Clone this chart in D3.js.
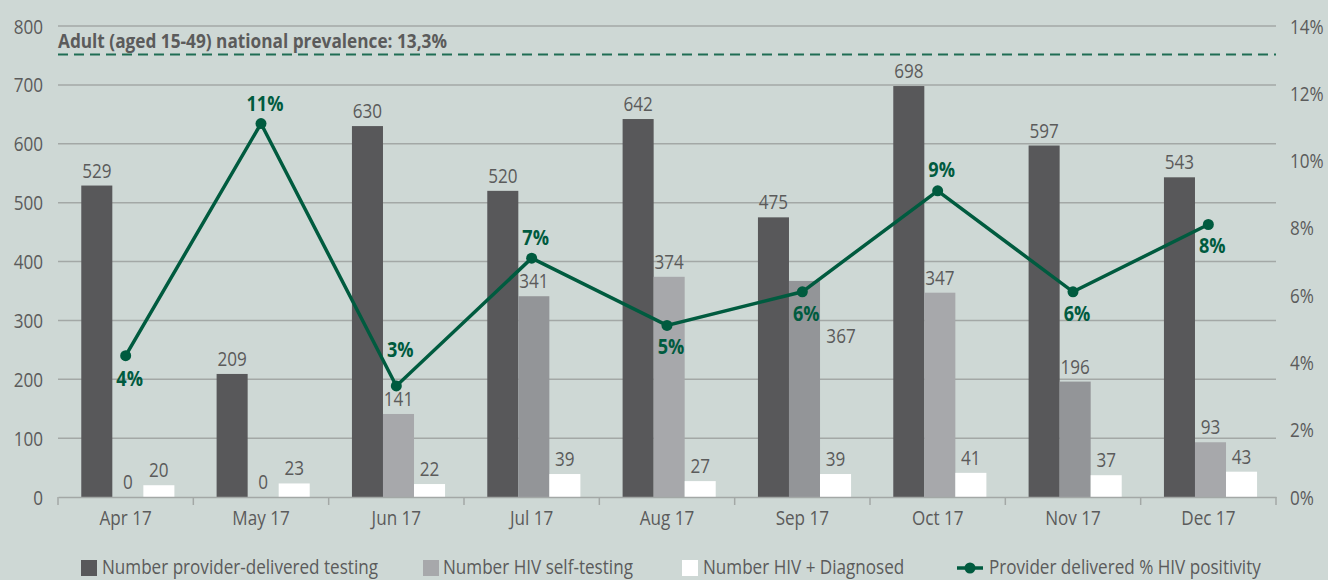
<!DOCTYPE html>
<html>
<head>
<meta charset="utf-8">
<script src="https://cdn.jsdelivr.net/npm/d3@7"></script>
<style>
  html, body { margin: 0; padding: 0; background: #ced8d5; }
  svg { display: block; }
  text { font-family: "Open Sans", "Noto Sans", "Liberation Sans", sans-serif; }
</style>
</head>
<body>
<svg id="chart" width="1328" height="580"></svg>
<script>
// ---- data ----
const months = ["Apr 17", "May 17", "Jun 17", "Jul 17", "Aug 17", "Sep 17", "Oct 17", "Nov 17", "Dec 17"];
const providerTesting = [529, 209, 630, 520, 642, 475, 698, 597, 543];
const selfTesting = [0, 0, 141, 341, 374, 367, 347, 196, 93];
const hivDiagnosed = [20, 23, 22, 39, 27, 39, 41, 37, 43];
const positivityPct = [4.2, 11.1, 3.3, 7.1, 5.1, 6.1, 9.1, 6.1, 8.1];
const positivityLabels = ["4%", "11%", "3%", "7%", "5%", "6%", "9%", "6%", "8%"];
const leftTicks = [0, 100, 200, 300, 400, 500, 600, 700, 800];
const rightTicks = [0, 2, 4, 6, 8, 10, 12, 14];
const prevalenceValue = 13.15;
const prevalenceText = "Adult (aged 15-49) national prevalence: 13,3%";
const seriesNames = ["Number provider-delivered testing", "Number HIV self-testing", "Number HIV + Diagnosed", "Provider delivered % HIV positivity"];

// ---- layout ----
const svg = d3.select("#chart");
const pL = 58, pR = 1276, pT = 26, pB = 497;
const C = {
  dark: "#58585a", light: "#a7a8ab", lightAlt: "#939598", white: "#ffffff",
  green: "#005b3f", dash: "#1f6d54", grid: "#a3a8a6", text: "#5b5b5b"
};

const x0 = d3.scaleBand().domain(months).range([pL, pR]).padding(0);
const keys = ["p", "s", "d"];
const bw = x0.bandwidth();
const x1 = d3.scaleBand().domain(keys).range([bw * 0.172, bw * 0.86]).padding(0);
const y = d3.scaleLinear().domain([0, 800]).range([pB, pT]);
const y2 = d3.scaleLinear().domain([0, 14]).range([pB, pT]);

// gridlines
svg.append("g").selectAll("line").data(leftTicks.filter(d => d > 0)).join("line")
  .attr("x1", pL).attr("x2", pR)
  .attr("y1", d => y(d)).attr("y2", d => y(d))
  .attr("stroke", C.grid).attr("stroke-width", 1.5);

// left axis
const yAxis = d3.axisLeft(y).tickValues(leftTicks).tickSize(0).tickPadding(15);
const gy = svg.append("g").attr("transform", `translate(${pL},0)`).call(yAxis);
gy.select(".domain").remove();
gy.selectAll("text").attr("font-size", 20).attr("fill", C.text).attr("dy", "0.35em").attr("x", -15);

// right axis
const y2Axis = d3.axisRight(y2).tickValues(rightTicks).tickSize(0).tickPadding(14).tickFormat(d => d + "%");
const gy2 = svg.append("g").attr("transform", `translate(${pR},0)`).call(y2Axis);
gy2.select(".domain").remove();
gy2.selectAll("text").attr("font-size", 20).attr("fill", C.text).attr("dy", "0.35em");

// prevalence dashed line + label
svg.append("line").attr("x1", pL).attr("x2", pR)
  .attr("y1", y2(prevalenceValue)).attr("y2", y2(prevalenceValue))
  .attr("stroke", C.dash).attr("stroke-width", 2).attr("stroke-dasharray", "10,6");
const prevLabel = svg.append("text").attr("class", "bold").attr("x", pL).attr("y", y2(prevalenceValue) - 7)
  .attr("font-size", 20).attr("font-weight", "bold").attr("fill", C.text).text(prevalenceText);

// bars
const rows = months.map((m, i) => ({ m, i, p: providerTesting[i], s: selfTesting[i], d: hivDiagnosed[i] }));
const groups = svg.append("g").selectAll("g").data(rows).join("g")
  .attr("transform", d => `translate(${x0(d.m)},0)`);
const fillFor = (k, i) => k === "p" ? C.dark : k === "s" ? (i % 2 ? C.lightAlt : C.light) : C.white;
groups.selectAll("rect").data(d => keys.map(k => ({ k, v: d[k], i: d.i }))).join("rect")
  .attr("x", d => x1(d.k)).attr("width", x1.bandwidth())
  .attr("y", d => y(d.v)).attr("height", d => pB - y(d.v))
  .attr("fill", d => fillFor(d.k, d.i));

// x axis
const xAxis = d3.axisBottom(x0).tickSize(0).tickPadding(14);
const gx = svg.append("g").attr("transform", `translate(0,${pB})`).call(xAxis);
gx.select(".domain").attr("stroke", C.grid).attr("stroke-width", 1.5);
gx.selectAll("text").attr("font-size", 20).attr("fill", C.text).attr("dy", "0.71em");
svg.append("g").selectAll("line").data(months.concat(["end"])).join("line")
  .attr("x1", (d, i) => pL + i * x0.step()).attr("x2", (d, i) => pL + i * x0.step())
  .attr("y1", pB).attr("y2", pB + 8)
  .attr("stroke", C.grid).attr("stroke-width", 1.5);

// bar value labels
groups.selectAll("text.v").data(d => keys.map(k => ({ k, v: d[k], i: d.i }))).join("text")
  .attr("class", "v")
  .attr("x", d => {
    const c = x1(d.k) + x1.bandwidth() / 2;
    return (d.k === "s" && d.i === 5) ? x1(d.k) + x1.bandwidth() + 21 : c;
  })
  .attr("y", d => (d.k === "s" && d.i === 5) ? y(d.v) + 62 : y(d.v) - 8)
  .attr("text-anchor", "middle").attr("font-size", 20).attr("fill", C.text)
  .text(d => d.v);

// positivity line
const cx = m => x0(m) + bw / 2;
const line = d3.line().x((d, i) => cx(months[i])).y(d => y2(d));
svg.append("path").datum(positivityPct).attr("d", line)
  .attr("fill", "none").attr("stroke", C.green).attr("stroke-width", 3.5).attr("stroke-linejoin", "miter");
svg.append("g").selectAll("circle").data(positivityPct).join("circle")
  .attr("cx", (d, i) => cx(months[i])).attr("cy", d => y2(d)).attr("r", 5.5).attr("fill", C.green);

// positivity labels (offset of baseline from point)
const pctLabelOffset = [30, -13, -29, -13, 29, 29, -14, 29, 29];
svg.append("g").selectAll("text").data(positivityPct).join("text")
  .attr("class", "bold")
  .attr("x", (d, i) => cx(months[i]) + 4).attr("y", (d, i) => y2(d) + pctLabelOffset[i])
  .attr("text-anchor", "middle").attr("font-size", 21).attr("font-weight", "bold").attr("fill", C.green)
  .text((d, i) => positivityLabels[i]);

// legend
const lg = svg.append("g");
const legY = 574;
const legItems = [
  { sx: 81, tx: 102, type: "rect", fill: C.dark },
  { sx: 423, tx: 443, type: "rect", fill: C.light },
  { sx: 682, tx: 703, type: "rect", fill: C.white },
  { sx: 957, tx: 989, type: "line", fill: C.green }
];
let firstLegendText = null;
legItems.forEach((it, i) => {
  if (it.type === "rect") {
    lg.append("rect").attr("x", it.sx).attr("y", 560).attr("width", 16).attr("height", 16).attr("fill", it.fill);
  } else {
    lg.append("line").attr("x1", it.sx).attr("x2", it.sx + 26).attr("y1", 568).attr("y2", 568)
      .attr("stroke", it.fill).attr("stroke-width", 3.5);
    lg.append("circle").attr("cx", it.sx + 13).attr("cy", 568).attr("r", 5.5).attr("fill", it.fill);
  }
  const t = lg.append("text").attr("x", it.tx).attr("y", legY).attr("font-size", 20).attr("fill", C.text).text(seriesNames[i]);
  if (i === 0) firstLegendText = t;
});

// condense all text horizontally to mimic the condensed typeface of the original
const kReg = 276 / firstLegendText.node().getComputedTextLength();
const kBold = 389 / prevLabel.node().getComputedTextLength();
svg.selectAll("text").each(function () {
  const w = this.getComputedTextLength();
  const k = this.getAttribute("class") === "bold" ? kBold : kReg;
  this.setAttribute("textLength", w * k);
  this.setAttribute("lengthAdjust", "spacingAndGlyphs");
});
</script>
</body>
</html>
